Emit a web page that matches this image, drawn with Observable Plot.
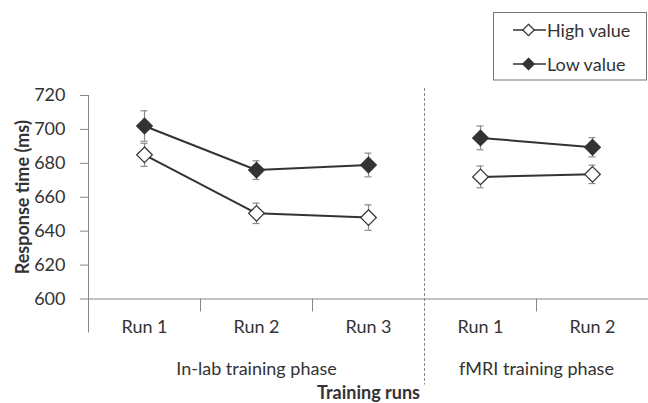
<!DOCTYPE html>
<html><head><meta charset="utf-8">
<script src="https://cdn.jsdelivr.net/npm/d3@7"></script>
<script src="https://cdn.jsdelivr.net/npm/@observablehq/plot@0.6"></script>
<style>
body{margin:0;background:#fff;}
#chart{position:relative;width:648px;height:403px;overflow:hidden;background:#fff;}
</style></head><body><div id="chart"></div>
<script>
// ---- data ----
const runs = ["Run 1", "Run 2", "Run 3", "Run 1", "Run 2"];
const runPhase = [0, 0, 0, 1, 1];
const phases = ["In-lab training phase", "fMRI training phase"];
const seriesNames = ["High value", "Low value"];
const highMean = [685, 650.5, 648, 672, 673.5];
const highSE   = [6.8, 6.0, 7.5, 6.4, 5.4];
const lowMean  = [702, 676, 679, 695, 689.5];
const lowSE    = [9.0, 5.5, 7.0, 7.0, 5.7];
const yTicks = [600, 620, 640, 660, 680, 700, 720];
const xTitle = "Training runs";
const yTitle = "Response time (ms)";

// ---- build table ----
const rows = [];
runs.forEach((r, i) => {
  rows.push({series: seriesNames[0], i, pos: i + 0.5, phase: runPhase[i], mean: highMean[i], se: highSE[i]});
  rows.push({series: seriesNames[1], i, pos: i + 0.5, phase: runPhase[i], mean: lowMean[i], se: lowSE[i]});
});
const phaseIdx = phases.map((p, k) => runs.map((_, i) => i).filter(i => runPhase[i] === k));
const phaseCenter = phaseIdx.map(ix => (d3.min(ix) + d3.max(ix) + 1) / 2);
const phaseBoundary = phaseIdx.slice(0, -1).map(ix => d3.max(ix) + 1);
const innerTicks = runs.map((_, i) => i).filter(i => i > 0 && !phaseBoundary.includes(i) && runPhase[i] === runPhase[i - 1]);

const AX = "#868686", TXT = "#333", LINE = "#333", ERR = "#8c8c8c";
const FONT = "Lato, 'Open Sans', sans-serif";

const plot = Plot.plot({
  width: 648, height: 403,
  marginTop: 95, marginBottom: 104.5, marginLeft: 88, marginRight: 0,
  style: {fontFamily: FONT, fontSize: "18px", color: TXT, background: "#fff"},
  x: {type: "linear", domain: [0, runs.length], axis: null},
  y: {domain: [600, 720], axis: null},
  marks: [
    Plot.axisY({ticks: yTicks, tickSize: 8, tickPadding: 15, label: null, stroke: AX, fontSize: 18}),
    Plot.ruleX([0], {y1: 720, y2: 600, insetBottom: -34, stroke: AX}),
    Plot.ruleY([600], {stroke: AX}),
    Plot.ruleX(innerTicks, {y1: 600, y2: 600, insetBottom: -13, stroke: AX}),
    Plot.ruleX(phaseBoundary, {y1: 720, y2: 600, insetTop: -7, insetBottom: -86, stroke: AX, strokeDasharray: "3,2"}),
    Plot.text(runs, {x: (d, i) => i + 0.5, frameAnchor: "bottom", lineAnchor: "middle", textAnchor: "middle", dy: 28, fill: TXT, fontSize: 18}),
    Plot.text(phases, {x: (d, k) => phaseCenter[k], frameAnchor: "bottom", lineAnchor: "middle", textAnchor: "middle", dy: 70, fill: TXT, fontSize: 18}),
    Plot.text([xTitle], {x: runs.length / 2, frameAnchor: "bottom", lineAnchor: "middle", textAnchor: "middle", dy: 94, fontWeight: "bold", fontSize: 18, fill: TXT}),
    Plot.text([yTitle], {frameAnchor: "left", lineAnchor: "middle", textAnchor: "middle", rotate: -90, dx: -65, fontWeight: "bold", fontSize: 18, fill: TXT}),
    // error bars
    Plot.ruleX(rows, {x: "pos", y1: d => d.mean - d.se, y2: d => d.mean + d.se, stroke: ERR, strokeWidth: 1.2}),
    Plot.ruleY(rows, {y: d => d.mean + d.se, x1: "pos", x2: "pos", insetLeft: -3.5, insetRight: -3.5, stroke: ERR, strokeWidth: 1.2}),
    Plot.ruleY(rows, {y: d => d.mean - d.se, x1: "pos", x2: "pos", insetLeft: -3.5, insetRight: -3.5, stroke: ERR, strokeWidth: 1.2}),
    // lines
    Plot.line(rows, {x: "pos", y: "mean", z: d => d.series + "|" + d.phase, stroke: LINE, strokeWidth: 2}),
    // markers
    Plot.dot(rows.filter(d => d.series === seriesNames[0]), {x: "pos", y: "mean", symbol: "diamond2", r: 7, fill: "#fff", stroke: LINE, strokeWidth: 1.3}),
    Plot.dot(rows.filter(d => d.series === seriesNames[1]), {x: "pos", y: "mean", symbol: "diamond2", r: 7, fill: LINE, stroke: LINE, strokeWidth: 1.3})
  ]
});

// ---- legend ----
const svg = d3.select(plot);
const lg = svg.append("g").attr("text-anchor", "start");
lg.append("rect").attr("x", 493.5).attr("y", 12.5).attr("width", 153).attr("height", 67.5)
  .attr("fill", "#fff").attr("stroke", "#777").attr("stroke-width", 1);
seriesNames.forEach((name, k) => {
  const cy = 30 + k * 34;
  lg.append("line").attr("x1", 513).attr("x2", 546).attr("y1", cy).attr("y2", cy)
    .attr("stroke", LINE).attr("stroke-width", 1.6);
  lg.append("path").attr("d", d3.symbol(d3.symbolDiamond2, Math.PI * 5.2 * 5.2)())
    .attr("transform", `translate(528.5,${cy})`)
    .attr("fill", k === 0 ? "#fff" : LINE).attr("stroke", LINE).attr("stroke-width", 1.2);
  lg.append("text").attr("x", 547).attr("y", cy + 6.5).text(name)
    .attr("fill", TXT).attr("font-family", FONT).attr("font-size", 18);
});

document.getElementById("chart").appendChild(plot);
</script>
</body></html>
